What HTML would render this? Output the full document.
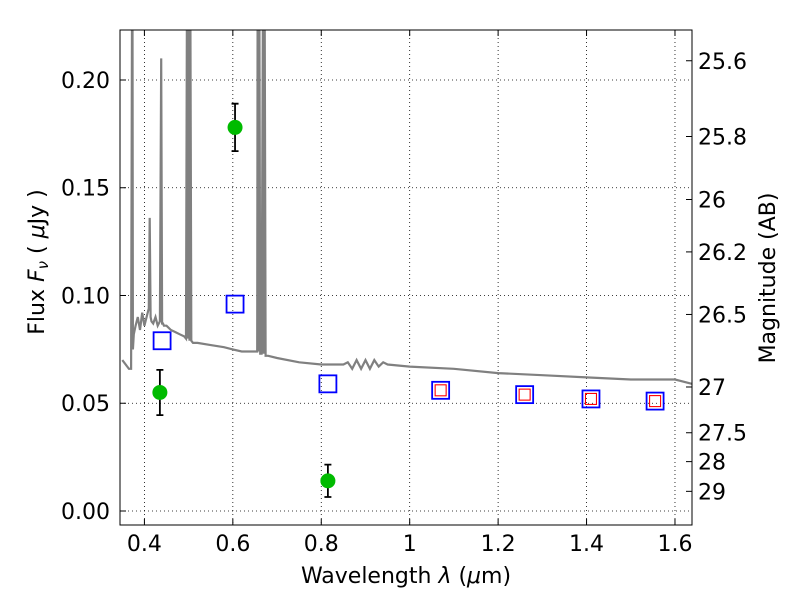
<!DOCTYPE html>
<html><head><meta charset="utf-8"><style>
body{margin:0;background:#fff}
svg text{font-family:"DejaVu Sans","Liberation Sans",sans-serif;fill:#000}
</style></head><body>
<svg id="chart" width="800" height="600" xmlns="http://www.w3.org/2000/svg">
<rect width="800" height="600" fill="#fff"/>
<g id="grid"></g>
<g id="marks"></g>
<rect x="120" y="30" width="572" height="495" fill="none" stroke="#000" stroke-width="1"/>
<g id="axes"></g>
<text x="406" y="583" font-size="22" text-anchor="middle">Wavelength  <tspan font-style="italic">λ</tspan> (<tspan font-style="italic">μ</tspan>m)</text>
<text transform="translate(44,262) rotate(-90)" font-size="22" text-anchor="middle">Flux  <tspan font-style="italic">F</tspan><tspan font-style="italic" font-size="15" dy="4">ν</tspan><tspan dy="-4">  (  </tspan><tspan font-style="italic">μ</tspan>Jy )</text>
<text transform="translate(775,278) rotate(-90)" font-size="22" text-anchor="middle">Magnitude (AB)</text>
</svg>
<script>
const xTicks=[0.4,0.6,0.8,1.0,1.2,1.4,1.6];
const xTickLabels=["0.4","0.6","0.8","1","1.2","1.4","1.6"];
const yTicks=[0,0.05,0.10,0.15,0.20];
const yTickLabels=["0.00","0.05","0.10","0.15","0.20"];
const magTicks=[25.6,25.8,26,26.2,26.5,27,27.5,28,29];
const magTickLabels=["25.6","25.8","26","26.2","26.5","27","27.5","28","29"];
const specWave=[0.35,0.365,0.37,0.372,0.373,0.374,0.376,0.38,0.385,0.39,0.395,0.40,0.405,0.41,0.412,0.414,0.416,0.42,0.425,0.43,0.435,0.438,0.44,0.442,0.444,0.45,0.46,0.47,0.48,0.49,0.494,0.496,0.498,0.50,0.502,0.504,0.506,0.51,0.52,0.55,0.58,0.60,0.62,0.65,0.655,0.656,0.658,0.66,0.662,0.665,0.668,0.67,0.672,0.674,0.676,0.68,0.70,0.75,0.80,0.85,0.86,0.87,0.88,0.89,0.90,0.91,0.92,0.93,0.94,0.95,1.0,1.1,1.2,1.3,1.4,1.5,1.6,1.638];
const specFlux=[0.070,0.066,0.066,0.23,0.23,0.075,0.082,0.086,0.09,0.084,0.092,0.086,0.09,0.094,0.136,0.09,0.088,0.087,0.09,0.086,0.088,0.21,0.087,0.087,0.086,0.086,0.084,0.083,0.082,0.081,0.08,0.23,0.08,0.23,0.079,0.23,0.079,0.078,0.078,0.077,0.076,0.075,0.074,0.074,0.074,0.23,0.074,0.23,0.073,0.073,0.23,0.073,0.23,0.072,0.072,0.072,0.071,0.069,0.068,0.068,0.069,0.066,0.07,0.066,0.07,0.066,0.07,0.067,0.069,0.068,0.067,0.066,0.064,0.063,0.062,0.061,0.061,0.059];
const photWave=[0.435,0.605,0.815];
const photFlux=[0.055,0.178,0.014];
const photErr=[0.0105,0.011,0.0075];
const modelWave=[0.44,0.605,0.815,1.07,1.26,1.41,1.555];
const modelFlux=[0.079,0.096,0.059,0.056,0.054,0.052,0.051];
const redWave=[1.07,1.26,1.41,1.555];
const redFlux=[0.056,0.054,0.052,0.051];
const X0=120,X1=692,Y0=30,Y1=525,xmin=0.3448,xmax=1.6385,ymin=-0.0065,ymax=0.2232;
const sx=v=>X0+(v-xmin)/(xmax-xmin)*(X1-X0);
const sy=v=>Y1-(v-ymin)/(ymax-ymin)*(Y1-Y0);
const NS="http://www.w3.org/2000/svg";
function mk(p,t,a){const e=document.createElementNS(NS,t);for(const k in a)e.setAttribute(k,a[k]);p.appendChild(e);return e;}
const grid=document.getElementById('grid'),axes=document.getElementById('axes'),marks=document.getElementById('marks');
xTicks.forEach((v,i)=>{const x=sx(v);
 let g=mk(grid,'line',{x1:x,x2:x,y1:Y0,y2:Y1,stroke:'#000','stroke-dasharray':'1,3','stroke-width':0.8});
 
 mk(axes,'line',{x1:x,x2:x,y1:Y1,y2:Y1-6,stroke:'#000'});mk(axes,'line',{x1:x,x2:x,y1:Y0,y2:Y0+6,stroke:'#000'});
 let t=mk(axes,'text',{x:x,y:Y1+26,'font-size':22,'text-anchor':'middle'});t.textContent=xTickLabels[i];
 });
yTicks.forEach((v,i)=>{const y=sy(v);
 let g=mk(grid,'line',{x1:X0,x2:X1,y1:y,y2:y,stroke:'#000','stroke-dasharray':'1,3','stroke-width':0.8});
 
 mk(axes,'line',{x1:X0,x2:X0+6,y1:y,y2:y,stroke:'#000'});
 let t=mk(axes,'text',{x:X0-10,y:y+8,'font-size':22,'text-anchor':'end'});t.textContent=yTickLabels[i];
 });
magTicks.forEach((m,i)=>{const y=sy(Math.pow(10,(23.9-m)/2.5));
 mk(axes,'line',{x1:X1,x2:X1-6,y1:y,y2:y,stroke:'#000'});
 let t=mk(axes,'text',{x:X1+6,y:y+8,'font-size':22});t.textContent=magTickLabels[i];
 });
const clip=mk(marks,'clipPath',{id:'pc'});mk(clip,'rect',{x:X0,y:Y0,width:X1-X0,height:Y1-Y0});
let pts=specWave.map((w,i)=>sx(w).toFixed(1)+','+sy(specFlux[i]).toFixed(1)).join(' ');
let sp=mk(marks,'polyline',{points:pts,fill:'none',stroke:'#808080','stroke-width':2.2,'clip-path':'url(#pc)'});

modelWave.forEach((w,i)=>{let r=mk(marks,'rect',{x:sx(w)-8.5,y:sy(modelFlux[i])-8.5,width:17,height:17,fill:'none',stroke:'#0000ff','stroke-width':1.8});
 });
redWave.forEach((w,i)=>{let r=mk(marks,'rect',{x:sx(w)-5.5,y:sy(redFlux[i])-5.5,width:11,height:11,fill:'none',stroke:'#ff0000','stroke-width':1.1});
 });
photWave.forEach((w,i)=>{const x=sx(w),f=photFlux[i],e=photErr[i];
 let l=mk(marks,'path',{d:`M${x},${sy(f-e)}V${sy(f+e)}M${x-3.5},${sy(f-e)}h7M${x-3.5},${sy(f+e)}h7`,stroke:'#000','stroke-width':1.8,fill:'none'});
 
 let c=mk(marks,'circle',{cx:x,cy:sy(f),r:7.5,fill:'#00bb00'});
 });
</script>
</body></html>
